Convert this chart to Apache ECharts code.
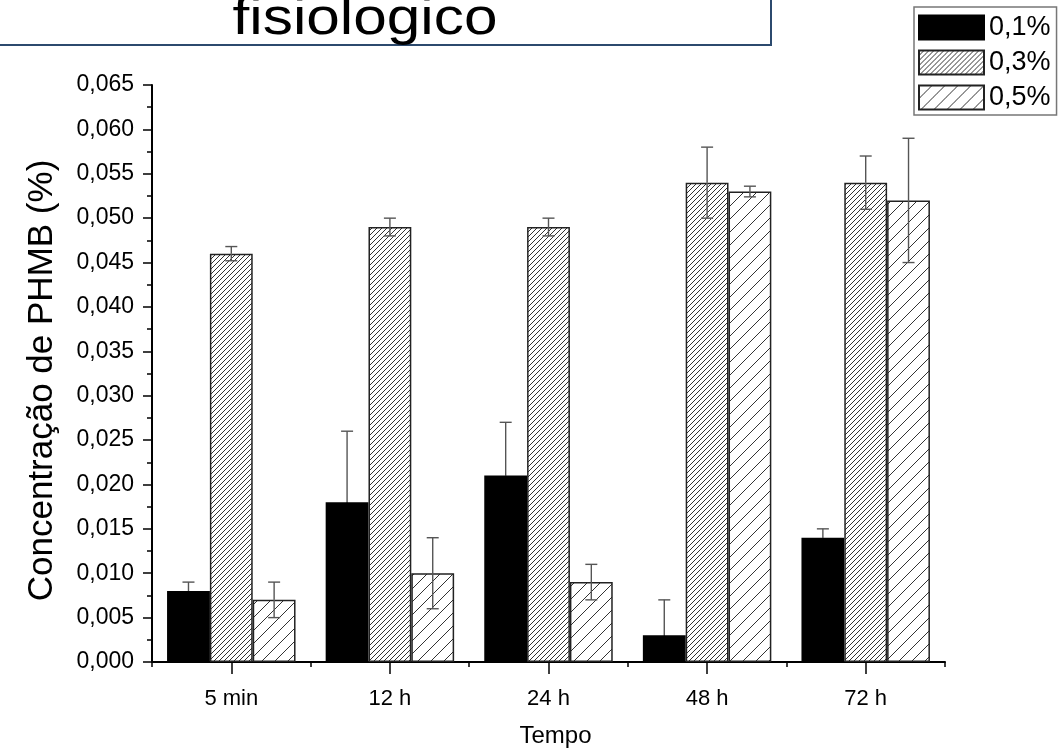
<!DOCTYPE html>
<html>
<head>
<meta charset="utf-8">
<script src="https://cdn.jsdelivr.net/npm/echarts@6/dist/echarts.min.js"></script>
<style>html,body{margin:0;padding:0;background:#fff;}#c{width:1063px;height:751px;}</style>
</head>
<body>
<div id="c"></div>
<script>
// ---- data ----
var categories = ['5 min', '12 h', '24 h', '48 h', '72 h'];
var seriesNames = ['0,1%', '0,3%', '0,5%'];
var values01 = [0.008, 0.018, 0.021, 0.003, 0.014];
var values03 = [0.046, 0.049, 0.049, 0.054, 0.054];
var values05 = [0.007, 0.010, 0.009, 0.053, 0.052];
var errors01 = [0.001, 0.008, 0.006, 0.004, 0.001];
var errors03 = [0.0008, 0.001, 0.001, 0.004, 0.003];
var errors05 = [0.002, 0.004, 0.002, 0.0006, 0.007];
var titleText = 'fisiologico';
var xName = 'Tempo';
var yName = 'Concentração de PHMB (%)';

function makeHatch(p, lw, color) {
  var c = document.createElement('canvas');
  c.width = p; c.height = p;
  var ctx = c.getContext('2d');
  ctx.fillStyle = '#fff';
  ctx.fillRect(0, 0, p, p);
  ctx.strokeStyle = color;
  ctx.lineWidth = lw;
  ctx.beginPath();
  for (var k = -1; k <= 1; k++) {
    ctx.moveTo(k * p, p);
    ctx.lineTo(k * p + p, 0);
  }
  ctx.stroke();
  return c;
}
var denseHatch = { image: makeHatch(5, 1, '#333'), repeat: 'repeat' };
var sparseHatch = { image: makeHatch(13, 1, '#333'), repeat: 'repeat' };

var allValues = [values01, values03, values05];
var allErrors = [errors01, errors03, errors05];
var errData = [];
for (var s = 0; s < 3; s++) {
  for (var i = 0; i < categories.length; i++) {
    errData.push([i, allValues[s][i], allErrors[s][i], s]);
  }
}

var chart = echarts.init(document.getElementById('c'));
var FONT = 'Liberation Sans';
var barFrac = 0.27;

chart.setOption({
  animation: false,
  textStyle: { fontFamily: FONT },
  graphic: [
    { type: 'rect', shape: { x: -4, y: -4, width: 775, height: 49 },
      style: { fill: 'none', stroke: '#2c4a6e', lineWidth: 2 }, z: 10 },
    { type: 'text', x: 365, y: 20, scaleX: 1.16,
      style: { text: titleText, font: '52px "Liberation Sans"', fill: '#000',
        textAlign: 'center', textVerticalAlign: 'middle' }, z: 11 }
  ],
  legend: {
    data: seriesNames,
    orient: 'vertical',
    left: 914, top: 7,
    itemWidth: 65, itemHeight: 24, itemGap: 8,
    padding: [7, 6, 4, 4],
    borderColor: '#777', borderWidth: 1.5,
    icon: 'rect',
    textStyle: { fontSize: 27, color: '#000', fontFamily: FONT }
  },
  grid: { left: 152, right: 118, top: 85, bottom: 89, containLabel: false, outerBoundsMode: 'none' },
  xAxis: [{
    type: 'category', data: categories, boundaryGap: true,
    axisLine: { lineStyle: { color: '#000', width: 2 } },
    axisTick: { show: false },
    axisLabel: { color: '#000', fontSize: 22, margin: 26, fontFamily: FONT },
    name: xName, nameLocation: 'middle', nameGap: 62,
    nameTextStyle: { fontSize: 24, color: '#000', fontFamily: FONT, padding: [0, 0, 0, 14] }
  }, {
    type: 'value', min: 0, max: 5, interval: 1, position: 'bottom',
    axisLine: { show: false },
    axisTick: { show: true, length: 5, lineStyle: { color: '#000', width: 1.5 } },
    minorTick: { show: true, splitNumber: 2, length: 12, lineStyle: { color: '#000', width: 1.5 } },
    axisLabel: { show: false },
    splitLine: { show: false },
    minorSplitLine: { show: false }
  }],
  yAxis: {
    type: 'value', min: 0, max: 0.065, interval: 0.005,
    axisLine: { show: true, lineStyle: { color: '#000', width: 2 } },
    axisTick: { show: true, length: 9, lineStyle: { color: '#000', width: 1.5 } },
    minorTick: { show: true, splitNumber: 2, length: 5, lineStyle: { color: '#000', width: 1.5 } },
    splitLine: { show: false },
    axisLabel: { color: '#000', fontSize: 23, margin: 18, fontFamily: FONT,
      formatter: function (v) { return v.toFixed(3).replace('.', ','); } },
    name: yName, nameLocation: 'middle', nameGap: 92,
    nameTextStyle: { fontSize: 35, color: '#000', fontFamily: FONT, padding: [0, 14, 0, 0] }
  },
  series: [
    { name: seriesNames[0], type: 'bar', data: values01, barGap: '0%', barCategoryGap: '19%',
      itemStyle: { color: '#000', borderColor: '#000', borderWidth: 1.5 } },
    { name: seriesNames[1], type: 'bar', data: values03, barGap: '0%', barCategoryGap: '19%',
      itemStyle: { color: denseHatch, borderColor: '#222', borderWidth: 1.5 } },
    { name: seriesNames[2], type: 'bar', data: values05, barGap: '0%', barCategoryGap: '19%',
      itemStyle: { color: sparseHatch, borderColor: '#222', borderWidth: 1.5 } },
    { type: 'custom', data: errData, z: 5,
      encode: { x: 0, y: 1 },
      renderItem: function (params, api) {
        var idx = api.value(0), val = api.value(1), err = api.value(2), s = api.value(3);
        var band = api.size([1, 0])[0];
        var off = (s - 1) * band * barFrac;
        var top = api.coord([idx, val + err]);
        var mid = api.coord([idx, val]);
        var bot = api.coord([idx, Math.max(0, val - err)]);
        var x = top[0] + off;
        var cap = 6;
        var st = { stroke: '#555', lineWidth: 1.4 };
        var lowSt = s === 0 ? { stroke: '#000', lineWidth: 1.4 } : st;
        var children = [
          { type: 'line', shape: { x1: x, y1: top[1], x2: x, y2: mid[1] }, style: st },
          { type: 'line', shape: { x1: x - cap, y1: top[1], x2: x + cap, y2: top[1] }, style: st },
          { type: 'line', shape: { x1: x, y1: mid[1], x2: x, y2: bot[1] }, style: lowSt }
        ];
        if (val - err >= 0) {
          children.push({ type: 'line', shape: { x1: x - cap, y1: bot[1], x2: x + cap, y2: bot[1] }, style: lowSt });
        }
        return { type: 'group', children: children };
      }
    }
  ]
});
</script>
</body>
</html>
